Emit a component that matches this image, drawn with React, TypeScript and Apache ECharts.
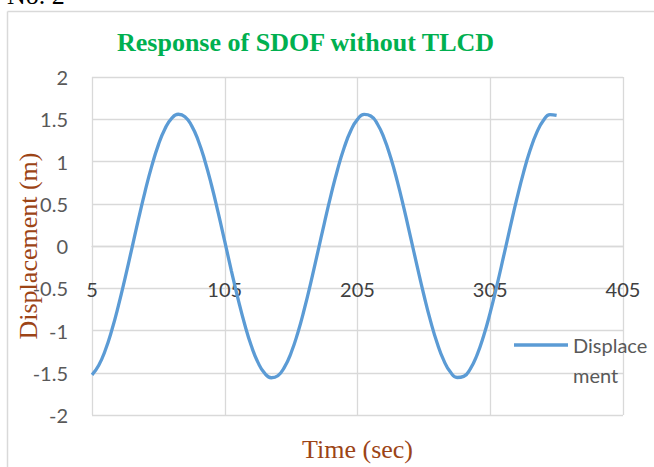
import React, { useEffect, useRef } from "react";
import * as echarts from "echarts";

// Time samples (sec) and the SDOF displacement response (m)
const timeSec: number[] = [
  5, 10, 15, 20, 25, 30, 35, 40, 45, 50, 55, 60, 65, 70, 75, 80, 85, 90, 95, 100,
  105, 110, 115, 120, 125, 130, 135, 140, 145, 150, 155, 160, 165, 170, 175, 180,
  185, 190, 195, 200, 205, 210, 215, 220, 225, 230, 235, 240, 245, 250, 255, 260,
  265, 270, 275, 280, 285, 290, 295, 300, 305, 310, 315, 320, 325, 330, 335, 340,
  345, 350, 355,
];
const displacement: number[] = [
  -1.525, -1.414, -1.234, -0.992, -0.7, -0.374, -0.03, 0.317, 0.647, 0.945, 1.197,
  1.388, 1.511, 1.559, 1.53, 1.425, 1.249, 1.01, 0.722, 0.398, 0.054, -0.293,
  -0.625, -0.926, -1.181, -1.377, -1.505, -1.559, -1.535, -1.434, -1.263, -1.029,
  -0.743, -0.421, -0.078, 0.269, 0.602, 0.906, 1.165, 1.366, 1.499, 1.557, 1.539,
  1.444, 1.277, 1.047, 0.765, 0.445, 0.103, -0.245, -0.58, -0.886, -1.148, -1.354,
  -1.492, -1.556, -1.543, -1.453, -1.291, -1.065, -0.786, -0.468, -0.127, 0.221,
  0.557, 0.866, 1.132, 1.341, 1.484, 1.554, 1.546,
];

const seriesName = "Displacement";
const xTicks = { min: 5, max: 405, step: 100 };
const yTicks = { min: -2, max: 2, step: 0.5 };

const GRID = "#d9d9d9";
const LABEL_FONT = "Lato, 'Open Sans', sans-serif";
const SERIF = "'Liberation Serif', 'Times New Roman', serif";
const BROWN = "#9c4416";

const GRID_TOP = 77;
const GRID_BOTTOM = 52;
const CHART_H = 467;

export default function App() {
  const ref = useRef<HTMLDivElement>(null);

  useEffect(() => {
    if (!ref.current) return;
    const chart = echarts.init(ref.current, undefined, { renderer: "svg" });
    const points = timeSec.map((t, i) => [t, displacement[i]]);

    // the time axis crosses the displacement axis at zero (middle of the plot)
    const plotH = CHART_H - GRID_TOP - GRID_BOTTOM;
    const zeroShift = (plotH * (0 - yTicks.min)) / (yTicks.max - yTicks.min);

    chart.setOption({
      animation: false,
      backgroundColor: "#ffffff",
      title: {
        text: "Response of SDOF without TLCD",
        left: 117,
        top: 29,
        padding: 0,
        textStyle: {
          color: "#00b050",
          fontFamily: SERIF,
          fontWeight: "bold",
          fontSize: 26,
        },
      },
      graphic: [
        {
          type: "text",
          left: 7,
          top: -18,
          style: { text: "No. 2", fill: "#000", font: `26px ${SERIF}` },
        },
        {
          type: "line",
          shape: { x1: 7.5, y1: 11.5, x2: 7.5, y2: 467 },
          style: { stroke: GRID, lineWidth: 1.5 },
        },
        {
          type: "line",
          shape: { x1: 7.5, y1: 11.5, x2: 654, y2: 11.5 },
          style: { stroke: GRID, lineWidth: 1.5 },
        },
      ],
      grid: {
        left: 92,
        right: 31,
        top: GRID_TOP,
        bottom: GRID_BOTTOM,
        containLabel: false,
        outerBoundsMode: "none",
      },
      legend: {
        data: [{ name: seriesName, icon: "rect" }],
        left: 514,
        top: 300,
        padding: 0,
        itemWidth: 54,
        itemHeight: 3.5,
        // blank first line keeps "Displace" level with the line icon
        formatter: () => " \nDisplace\nment",
        textStyle: {
          color: "#595959",
          fontFamily: LABEL_FONT,
          fontSize: 20,
          lineHeight: 30,
        },
      },
      xAxis: {
        type: "value",
        min: xTicks.min,
        max: xTicks.max,
        interval: xTicks.step,
        offset: -zeroShift,
        name: "Time (sec)",
        nameLocation: "middle",
        nameGap: 190,
        nameMoveOverlap: false,
        nameTextStyle: { color: BROWN, fontFamily: SERIF, fontSize: 26 },
        axisLine: { show: true, onZero: false, lineStyle: { color: GRID, width: 1.3 } },
        axisTick: { show: false },
        axisLabel: {
          margin: 33,
          color: "#404040",
          fontFamily: LABEL_FONT,
          fontSize: 20,
          showMinLabel: true,
          showMaxLabel: true,
        },
        splitLine: { show: true, lineStyle: { color: GRID, width: 1.3 } },
      },
      yAxis: {
        type: "value",
        min: yTicks.min,
        max: yTicks.max,
        interval: yTicks.step,
        name: "Displacement (m)",
        nameLocation: "middle",
        nameGap: 51,
        nameMoveOverlap: false,
        nameTextStyle: { color: BROWN, fontFamily: SERIF, fontSize: 26 },
        axisLine: { show: false },
        axisTick: { show: false },
        axisLabel: {
          margin: 24,
          color: "#595959",
          fontFamily: LABEL_FONT,
          fontSize: 20,
        },
        splitLine: { show: true, lineStyle: { color: GRID, width: 1.3 } },
      },
      series: [
        {
          name: seriesName,
          type: "line",
          data: points,
          smooth: true,
          showSymbol: false,
          lineStyle: { color: "#5b9bd5", width: 3.3 },
          itemStyle: { color: "#5b9bd5" },
        },
      ],
    });

    return () => chart.dispose();
  }, []);

  return (
    <div
      ref={ref}
      style={{ position: "fixed", left: 0, top: 0, width: 654, height: 467 }}
    />
  );
}
